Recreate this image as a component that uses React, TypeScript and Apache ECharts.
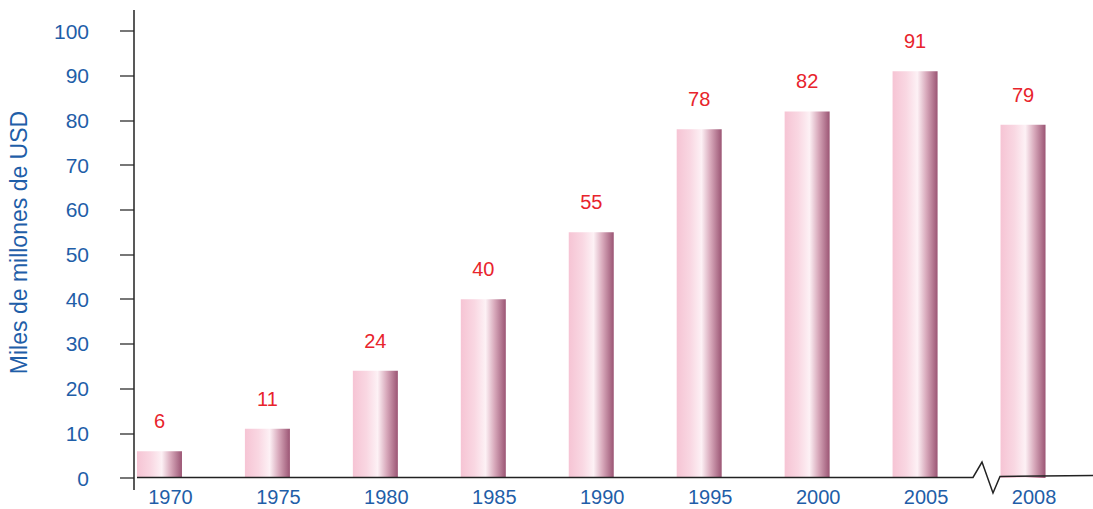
import React, { useEffect, useRef } from "react";
import * as echarts from "echarts";

const years = ["1970", "1975", "1980", "1985", "1990", "1995", "2000", "2005", "2008"];
const values = [6, 11, 24, 40, 55, 78, 82, 91, 79];
const yTicks = { min: 0, max: 100, interval: 10 };
const axisName = "Miles de millones de USD";

const BLUE = "#1f5ea8";
const RED = "#e8242c";
const FONT = "Liberation Sans, Arial, sans-serif";

export default function App() {
  const ref = useRef<HTMLDivElement>(null);
  useEffect(() => {
    document.body.style.margin = "0";
    const chart = echarts.init(ref.current!, null, { renderer: "svg" });
    const barGradient = new echarts.graphic.LinearGradient(0, 0, 1, 0, [
      { offset: 0, color: "#f6c4d4" },
      { offset: 0.3, color: "#f9d7e2" },
      { offset: 0.55, color: "#fdf1f5" },
      { offset: 0.75, color: "#d8a9bb" },
      { offset: 1, color: "#9b5574" },
    ]);
    chart.setOption({
      animation: false,
      grid: {
        left: 105.5,
        right: 16,
        top: 31,
        bottom: 31,
        containLabel: false,
        outerBoundsMode: "none",
      },
      xAxis: {
        type: "category",
        data: years,
        axisLine: { show: false },
        axisTick: { show: false },
        axisLabel: {
          color: BLUE,
          fontSize: 20,
          lineHeight: 18,
          fontFamily: FONT,
          margin: 10,
          padding: [0, 0, 0, 22],
        },
      },
      yAxis: {
        type: "value",
        min: yTicks.min,
        max: yTicks.max,
        interval: yTicks.interval,
        offset: -28.5,
        splitLine: { show: false },
        axisLine: { show: false },
        axisTick: { show: true, length: 14, lineStyle: { color: "#777", width: 2 } },
        axisLabel: { color: BLUE, fontSize: 21, fontFamily: FONT, margin: 45 },
        name: axisName,
        nameLocation: "middle",
        nameRotate: 90,
        nameGap: 104,
        nameTextStyle: {
          color: BLUE,
          fontSize: 23,
          fontFamily: FONT,
          padding: [0, 0, 0, 24],
        },
      },
      series: [
        {
          type: "bar",
          data: values,
          barWidth: 45,
          itemStyle: { color: barGradient },
          label: {
            show: true,
            position: "top",
            distance: 20,
            color: RED,
            fontSize: 20,
            fontFamily: FONT,
          },
        },
      ],
      graphic: [
        {
          type: "line",
          shape: { x1: 134, y1: 10, x2: 134, y2: 490 },
          style: { stroke: "#222", lineWidth: 1.5 },
          z: 10,
        },
        {
          type: "polyline",
          shape: {
            points: [
              [137, 477.5],
              [973, 477.5],
              [982, 462],
              [993, 493],
              [1000, 476.5],
              [1093, 475.5],
            ],
          },
          style: { stroke: "#222", lineWidth: 1.5, fill: null },
          z: 10,
        },
      ],
    });
    return () => chart.dispose();
  }, []);
  return <div ref={ref} style={{ width: 1093, height: 509 }} />;
}
